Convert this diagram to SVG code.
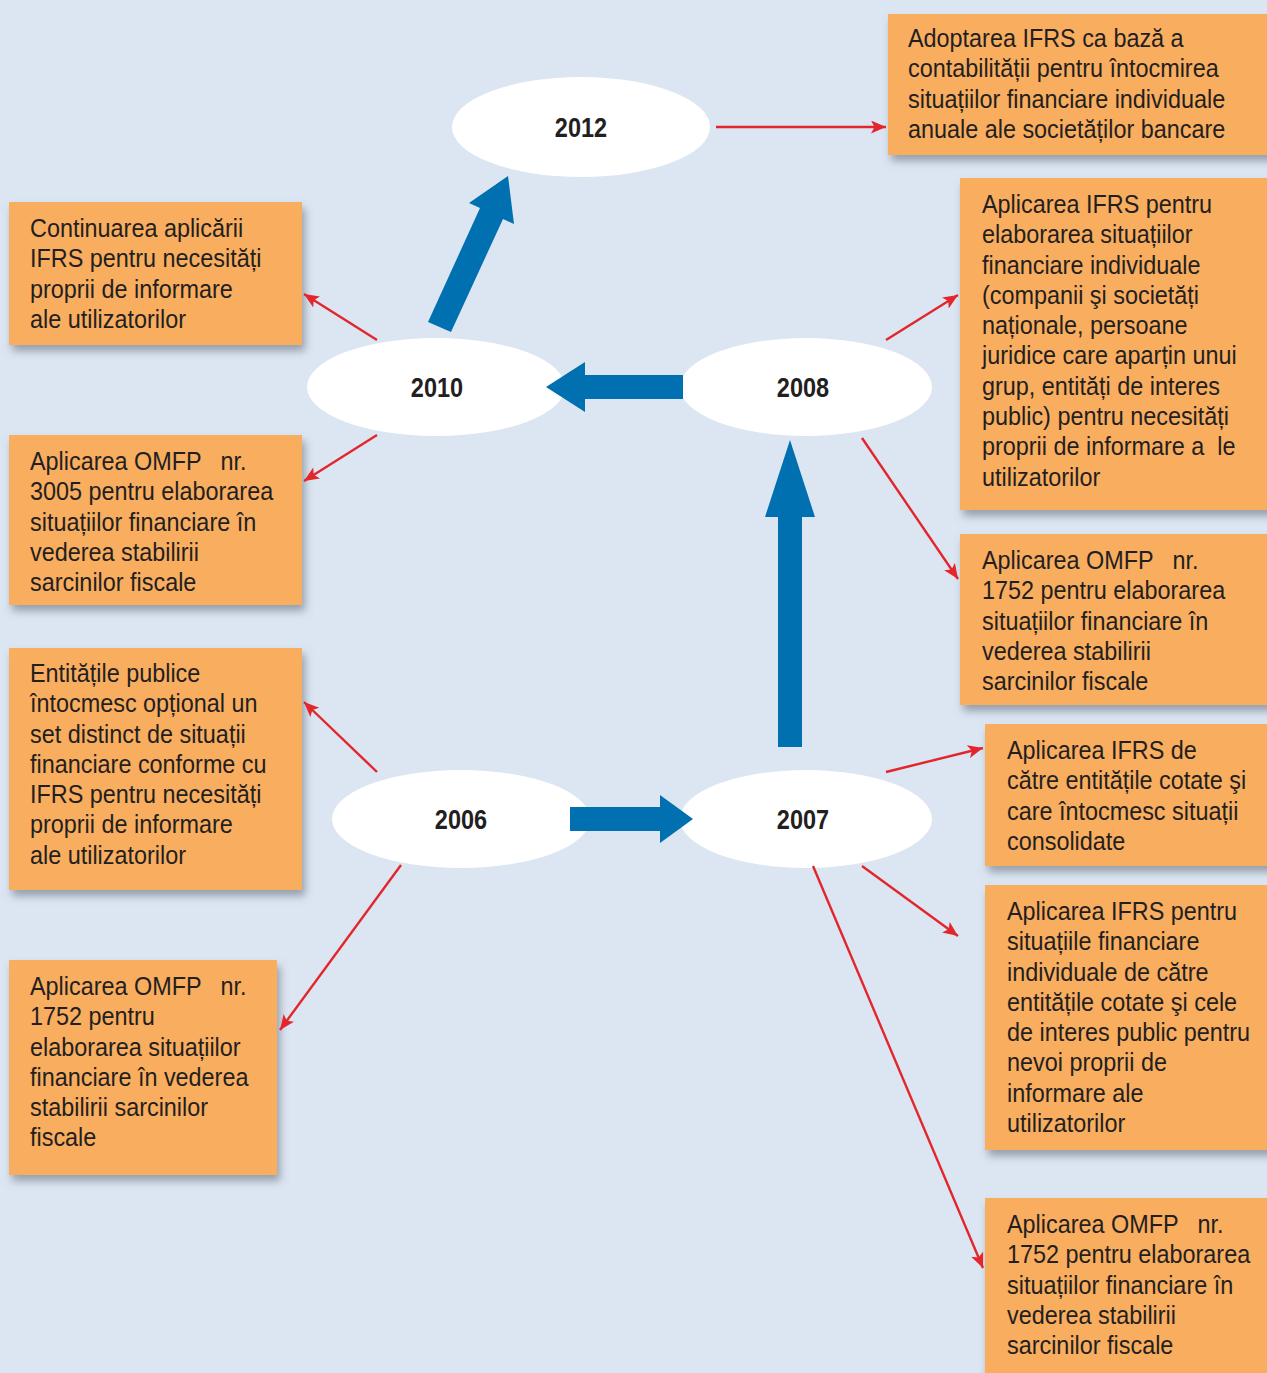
<svg xmlns="http://www.w3.org/2000/svg" width="1267" height="1373" viewBox="0 0 1267 1373">
<defs>
<filter id="sh" x="-10%" y="-10%" width="125%" height="130%">
<feDropShadow dx="3" dy="6" stdDeviation="4" flood-color="#5a6470" flood-opacity="0.55"/>
</filter>
<marker id="rh" markerUnits="userSpaceOnUse" markerWidth="18" markerHeight="14" refX="15" refY="6.5" orient="auto">
<path d="M0,0 L15,6.5 L0,13 L3.5,6.5 Z" fill="#e3262b"/>
</marker>
<style>
.box{fill:#f9ad5f;filter:url(#sh)}
.t{font-family:"Liberation Sans",Arial,sans-serif;font-size:26px;fill:#231f20;white-space:pre}
.yr{font-family:"Liberation Sans",Arial,sans-serif;font-size:28px;font-weight:bold;fill:#231f20;text-anchor:middle}
.ell{fill:#ffffff}
.red{stroke:#e3262b;stroke-width:2.4;fill:none;marker-end:url(#rh)}
.blue{fill:#0070b0}
</style>
</defs>
<rect x="0" y="0" width="1267" height="1373" fill="#dce6f2"/>

<g id="n2012"><ellipse class="ell" cx="581" cy="127" rx="129" ry="50"/><text class="yr" transform="translate(581,137) scale(0.84,1)">2012</text></g>
<g id="n2010"><ellipse class="ell" cx="436" cy="387" rx="129" ry="49"/><text class="yr" transform="translate(437,397) scale(0.84,1)">2010</text></g>
<g id="n2008"><ellipse class="ell" cx="806" cy="387" rx="126" ry="49"/><text class="yr" transform="translate(803,397) scale(0.84,1)">2008</text></g>
<g id="n2006"><ellipse class="ell" cx="461" cy="819" rx="129" ry="49"/><text class="yr" transform="translate(461,829) scale(0.84,1)">2006</text></g>
<g id="n2007"><ellipse class="ell" cx="806" cy="819" rx="126" ry="49"/><text class="yr" transform="translate(803,829) scale(0.84,1)">2007</text></g>

<g id="b1"><rect class="box" x="888" y="14" width="390" height="141"/>
<text class="t" transform="translate(908,47) scale(0.9,1)"><tspan x="0">Adoptarea IFRS ca bază a</tspan><tspan x="0" dy="30.3">contabilității pentru întocmirea</tspan><tspan x="0" dy="30.3">situațiilor financiare individuale</tspan><tspan x="0" dy="30.3">anuale ale societăților bancare</tspan></text></g>

<g id="b2"><rect class="box" x="9" y="202" width="293" height="143"/>
<text class="t" transform="translate(30,237) scale(0.9,1)"><tspan x="0">Continuarea aplicării</tspan><tspan x="0" dy="30.3">IFRS pentru necesități</tspan><tspan x="0" dy="30.3">proprii de informare</tspan><tspan x="0" dy="30.3">ale utilizatorilor</tspan></text></g>

<g id="b3"><rect class="box" x="960" y="178" width="320" height="332"/>
<text class="t" transform="translate(982,213) scale(0.9,1)"><tspan x="0">Aplicarea IFRS pentru</tspan><tspan x="0" dy="30.3">elaborarea situațiilor</tspan><tspan x="0" dy="30.3">financiare individuale</tspan><tspan x="0" dy="30.3">(companii şi societăți</tspan><tspan x="0" dy="30.3">naționale, persoane</tspan><tspan x="0" dy="30.3">juridice care aparțin unui</tspan><tspan x="0" dy="30.3">grup, entități de interes</tspan><tspan x="0" dy="30.3">public) pentru necesități</tspan><tspan x="0" dy="30.3">proprii de informare a  le</tspan><tspan x="0" dy="30.3">utilizatorilor</tspan></text></g>

<g id="b4"><rect class="box" x="9" y="435" width="293" height="170"/>
<text class="t" transform="translate(30,470) scale(0.9,1)"><tspan x="0">Aplicarea OMFP   nr.</tspan><tspan x="0" dy="30.3">3005 pentru elaborarea</tspan><tspan x="0" dy="30.3">situațiilor financiare în</tspan><tspan x="0" dy="30.3">vederea stabilirii</tspan><tspan x="0" dy="30.3">sarcinilor fiscale</tspan></text></g>

<g id="b5"><rect class="box" x="960" y="534" width="320" height="171"/>
<text class="t" transform="translate(982,569) scale(0.9,1)"><tspan x="0">Aplicarea OMFP   nr.</tspan><tspan x="0" dy="30.3">1752 pentru elaborarea</tspan><tspan x="0" dy="30.3">situațiilor financiare în</tspan><tspan x="0" dy="30.3">vederea stabilirii</tspan><tspan x="0" dy="30.3">sarcinilor fiscale</tspan></text></g>

<g id="b6"><rect class="box" x="9" y="648" width="293" height="242"/>
<text class="t" transform="translate(30,682) scale(0.9,1)"><tspan x="0">Entitățile publice</tspan><tspan x="0" dy="30.3">întocmesc opțional un</tspan><tspan x="0" dy="30.3">set distinct de situații</tspan><tspan x="0" dy="30.3">financiare conforme cu</tspan><tspan x="0" dy="30.3">IFRS pentru necesități</tspan><tspan x="0" dy="30.3">proprii de informare</tspan><tspan x="0" dy="30.3">ale utilizatorilor</tspan></text></g>

<g id="b7"><rect class="box" x="985" y="724" width="295" height="142"/>
<text class="t" transform="translate(1007,759) scale(0.9,1)"><tspan x="0">Aplicarea IFRS de</tspan><tspan x="0" dy="30.3">către entitățile cotate şi</tspan><tspan x="0" dy="30.3">care întocmesc situații</tspan><tspan x="0" dy="30.3">consolidate</tspan></text></g>

<g id="b8"><rect class="box" x="985" y="885" width="295" height="265"/>
<text class="t" transform="translate(1007,920) scale(0.9,1)"><tspan x="0">Aplicarea IFRS pentru</tspan><tspan x="0" dy="30.3">situațiile financiare</tspan><tspan x="0" dy="30.3">individuale de către</tspan><tspan x="0" dy="30.3">entitățile cotate şi cele</tspan><tspan x="0" dy="30.3">de interes public pentru</tspan><tspan x="0" dy="30.3">nevoi proprii de</tspan><tspan x="0" dy="30.3">informare ale</tspan><tspan x="0" dy="30.3">utilizatorilor</tspan></text></g>

<g id="b9"><rect class="box" x="9" y="960" width="268" height="215"/>
<text class="t" transform="translate(30,995) scale(0.9,1)"><tspan x="0">Aplicarea OMFP   nr.</tspan><tspan x="0" dy="30.3">1752 pentru</tspan><tspan x="0" dy="30.3">elaborarea situațiilor</tspan><tspan x="0" dy="30.3">financiare în vederea</tspan><tspan x="0" dy="30.3">stabilirii sarcinilor</tspan><tspan x="0" dy="30.3">fiscale</tspan></text></g>

<g id="b10"><rect class="box" x="985" y="1198" width="295" height="190"/>
<text class="t" transform="translate(1007,1233) scale(0.9,1)"><tspan x="0">Aplicarea OMFP   nr.</tspan><tspan x="0" dy="30.3">1752 pentru elaborarea</tspan><tspan x="0" dy="30.3">situațiilor financiare în</tspan><tspan x="0" dy="30.3">vederea stabilirii</tspan><tspan x="0" dy="30.3">sarcinilor fiscale</tspan></text></g>

<g id="connectors">
<line class="red" x1="716" y1="127" x2="886" y2="127"/>
<line class="red" x1="377" y1="340" x2="304" y2="294"/>
<line class="red" x1="377" y1="435" x2="304" y2="481"/>
<line class="red" x1="886" y1="340" x2="958" y2="295"/>
<line class="red" x1="862" y1="438" x2="958" y2="579"/>
<line class="red" x1="377" y1="772" x2="304" y2="702"/>
<line class="red" x1="401" y1="865" x2="280" y2="1030"/>
<line class="red" x1="886" y1="772" x2="983" y2="748"/>
<line class="red" x1="862" y1="866" x2="958" y2="936"/>
<line class="red" x1="813" y1="866" x2="983" y2="1268"/>
<polygon class="blue" points="428,322 480,208 469,203 508,176 514,224 503,219 451,332"/>
<polygon class="blue" points="683,375 585,375 585,362 546,387 585,412 585,399 683,399"/>
<polygon class="blue" points="778,747 778,517 765,517 790,440 815,517 802,517 802,747"/>
<polygon class="blue" points="570,807 660,807 660,795 693,819 660,843 660,831 570,831"/>
</g>
</svg>
